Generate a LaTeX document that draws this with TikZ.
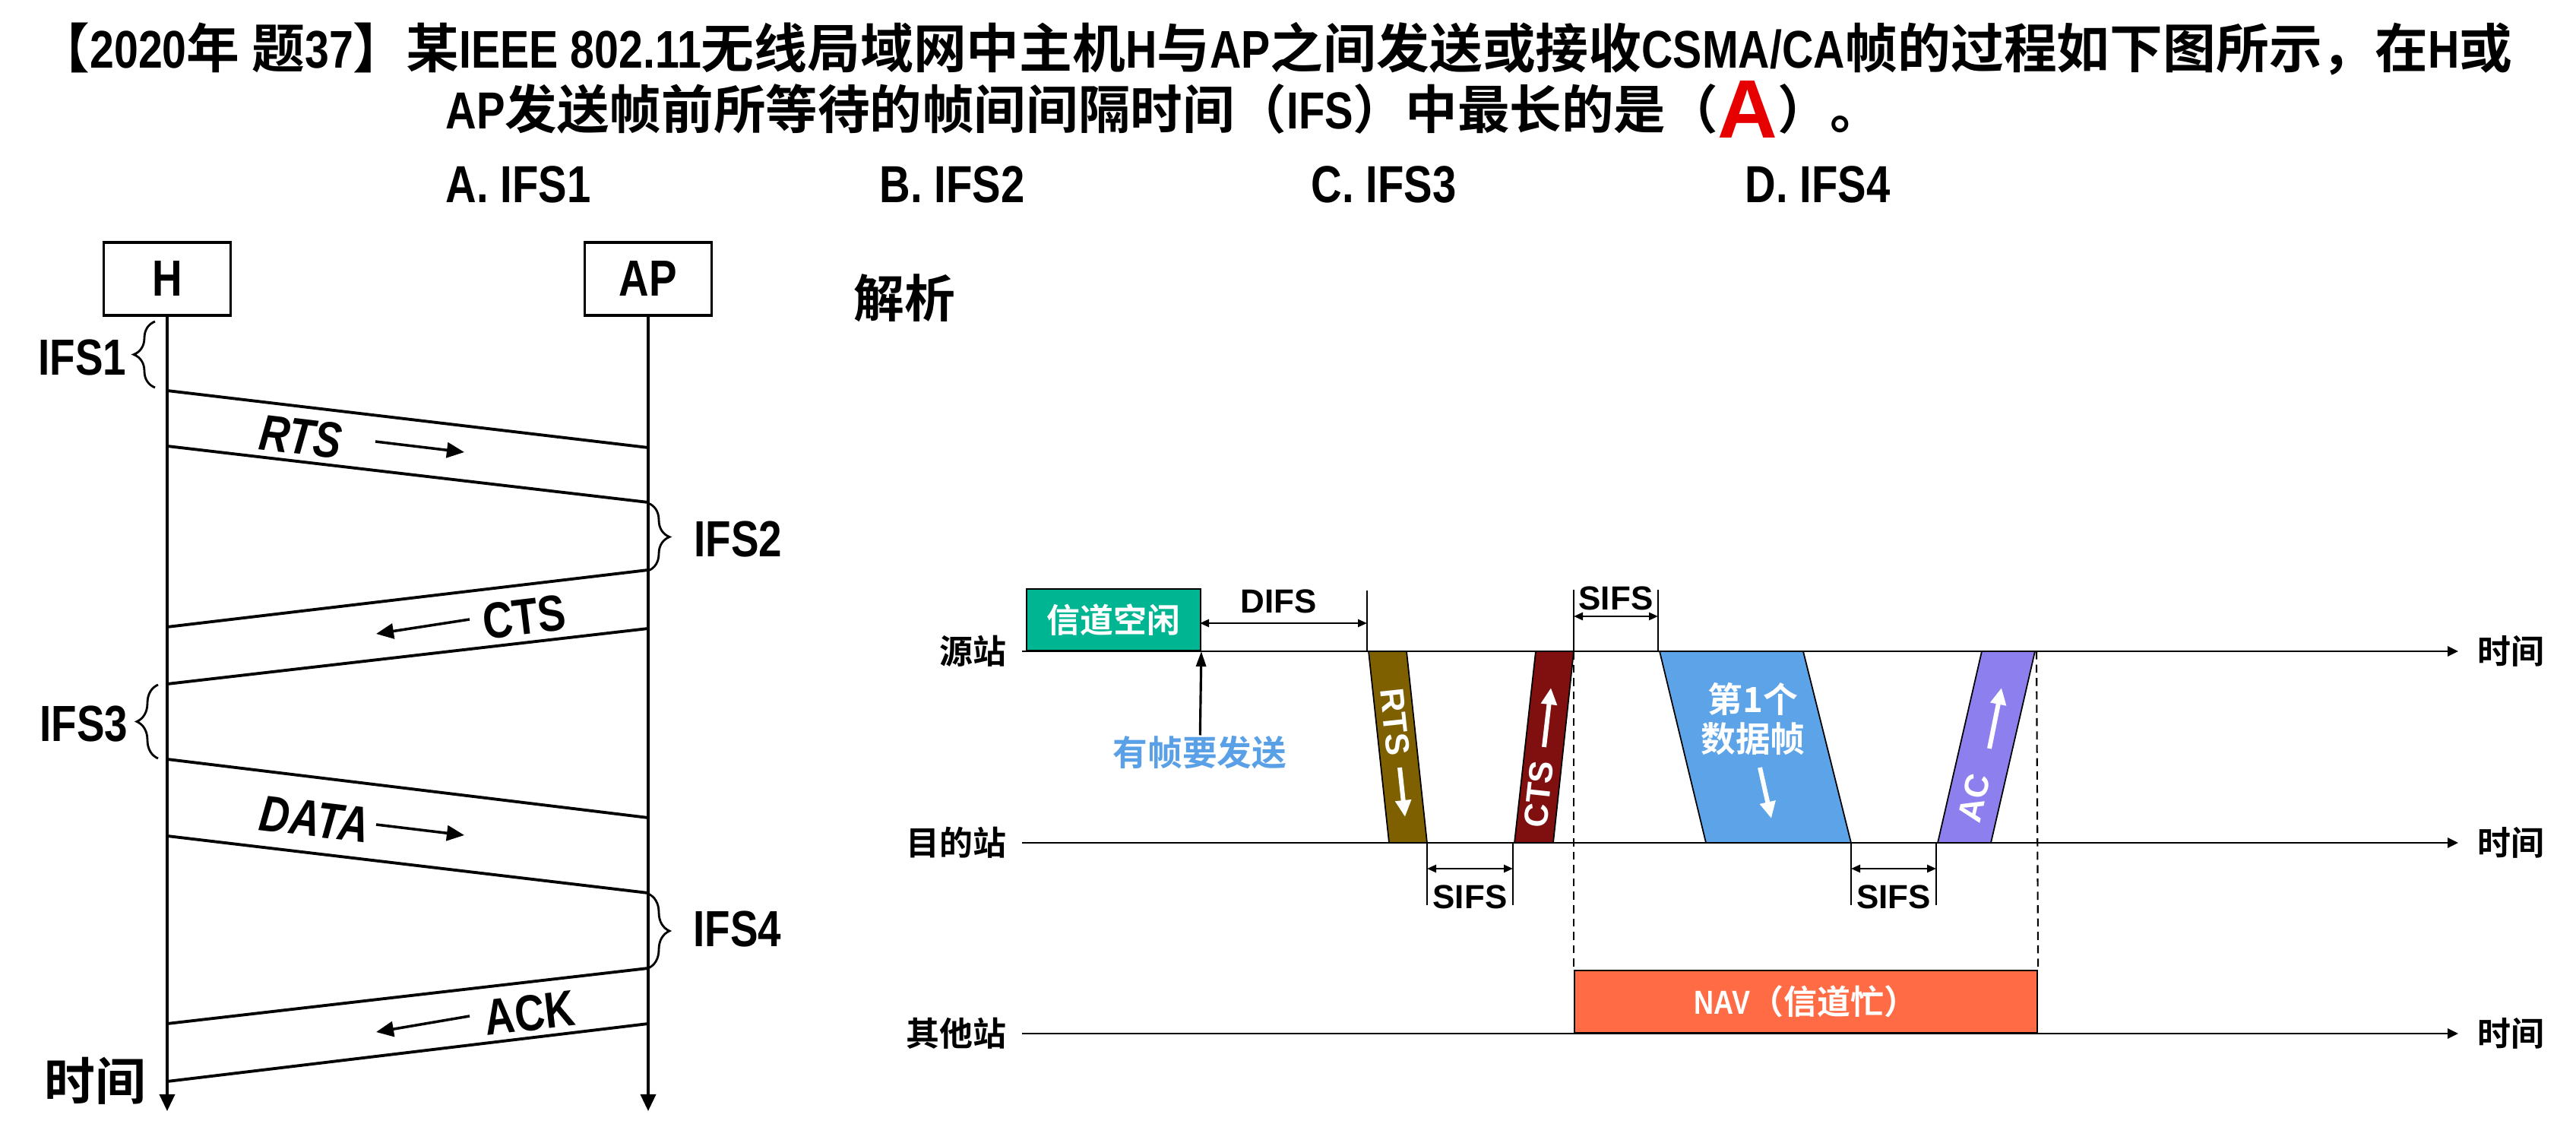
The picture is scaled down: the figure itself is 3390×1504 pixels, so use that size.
\documentclass[tikz,border=0pt]{standalone}
\usepackage{fontspec}
\setmainfont{Liberation Sans}
\newfontfamily\narrowfont{Liberation Sans}[FakeStretch=0.82]
\newfontfamily\cjkfont{Noto Sans CJK SC}[BoldFont={Noto Sans CJK SC Bold}]
\newcommand{\zh}[1]{{\cjkfont\bfseries #1}}
\usetikzlibrary{arrows.meta,decorations.pathreplacing,positioning}

\definecolor{idlegreen}{RGB}{0,182,146}
\definecolor{rtsbrown}{RGB}{127,96,0}
\definecolor{ctsred}{RGB}{128,16,16}
\definecolor{datablue}{RGB}{92,163,232}
\definecolor{ackviolet}{RGB}{141,128,238}
\definecolor{navorange}{RGB}{255,107,69}
\definecolor{hintblue}{RGB}{90,160,230}
\definecolor{answerred}{RGB}{230,0,0}

\begin{document}
\begin{tikzpicture}[x=0.01cm, y=-0.01cm,
  every node/.style={inner sep=0pt},
  qline/.style={anchor=base west, font=\fontsize{19.5}{24}\selectfont\narrowfont\bfseries},
  hostbox/.style={draw, line width=1.1pt, minimum width=1.67cm, minimum height=0.96cm,
    font=\fontsize{19}{23}\selectfont\narrowfont\bfseries},
  lbl/.style={font=\fontsize{19}{23}\selectfont\narrowfont\bfseries},
  life/.style={line width=1pt, -{Triangle[length=0.22cm,width=0.2cm]}},
  msgline/.style={line width=1.1pt},
  dirarrow/.style={line width=1pt, -{Triangle[length=0.23cm,width=0.2cm]}},
  ifsbrace/.style={decorate, decoration={brace, amplitude=0.28cm}, line width=0.8pt},
  station/.style={anchor=east, font=\fontsize{12.5}{15}\selectfont\bfseries},
  timeaxis/.style={line width=0.8pt, -{Triangle[length=0.14cm,width=0.13cm]}},
  framebox/.style={draw=black, line width=0.5pt},
  wtxt/.style={text=white, font=\fontsize{12.5}{15}\selectfont\bfseries},
  warrow/.style={white, line width=1.7pt, -{Triangle[length=0.22cm,width=0.2cm]}},
  vtick/.style={line width=0.6pt},
  ifsspan/.style={line width=0.7pt, {Triangle[length=0.12cm,width=0.1cm]}-{Triangle[length=0.12cm,width=0.1cm]}},
  gaplbl/.style={font=\fontsize{12.5}{15}\selectfont\bfseries}]
\useasboundingbox (0,0) rectangle (3390,1504);

% question
\node[qline, font=\fontsize{19.85}{24}\selectfont\narrowfont\bfseries] (q1) at (48,90) {\zh{【}2020\zh{年 题}37\zh{】某}IEEE 802.11\zh{无线局域网中主机}H\zh{与}AP\zh{之间发送或接收}CSMA/CA\zh{帧的过程如下图所示，在}H\zh{或}};
\node[qline] (q2) at (586,170) {AP\zh{发送帧前所等待的帧间间隔时间（}IFS\zh{）中最长的是（}{\rmfamily\color{answerred}\fontsize{31}{31}\selectfont\raisebox{-0.12cm}{A}}\zh{）。}};
\node[qline] (optA) at (586,267) {A. IFS1};
\node[qline] (optB) at (1157,267) {B. IFS2};
\node[qline] (optC) at (1725,267) {C. IFS3};
\node[qline] (optD) at (2296,267) {D. IFS4};

% H and AP
\node[hostbox] (H) at (220,367) {H};
\node[hostbox] (AP) at (853,367) {AP};
\coordinate (Hend) at (220,1462);
\coordinate (APend) at (853,1462);
\draw[life] (H) -- (Hend);
\draw[life] (AP) -- (APend);

\foreach \m/\ha/\aa/\hb/\ab in {rts/514/589/587/661, cts/825/750/900/827,
    data/999/1076/1100/1175, ack/1347/1274/1423/1347} {
  \coordinate (\m-h1) at (220,\ha);
  \coordinate (\m-a1) at (853,\aa);
  \coordinate (\m-h2) at (220,\hb);
  \coordinate (\m-a2) at (853,\ab);
  \draw[msgline] (\m-h1) -- (\m-a1);
  \draw[msgline] (\m-h2) -- (\m-a2);
}

\node[lbl, rotate=-6.8] (rtsl) at (396,575) {\itshape RTS};
\coordinate (rtsa) at (494,581);
\coordinate (rtsb) at (611,595);
\draw[dirarrow] (rtsa) -- (rtsb);
\node[lbl, rotate=6.8] (ctsl) at (690,812) {CTS};
\coordinate (ctsa) at (618,815);
\coordinate (ctsb) at (495,834);
\draw[dirarrow] (ctsa) -- (ctsb);
\node[lbl, rotate=-6.8] (datal) at (414,1078) {\itshape DATA};
\coordinate (dataa) at (495,1085);
\coordinate (datab) at (611,1099);
\draw[dirarrow] (dataa) -- (datab);
\node[lbl, rotate=6.8] (ackl) at (697,1333) {ACK};
\coordinate (acka) at (618,1337);
\coordinate (ackb) at (495,1358);
\draw[dirarrow] (acka) -- (ackb);

% IFS braces
\coordinate (ifs1a) at (204,510);
\coordinate (ifs1b) at (204,423);
\draw[ifsbrace] (ifs1a) -- (ifs1b);
\node[lbl, anchor=east] (ifs1) at (167,471) {IFS1};
\coordinate (ifs2a) at (853,662);
\coordinate (ifs2b) at (853,751);
\draw[ifsbrace] (ifs2a) -- (ifs2b);
\node[lbl, anchor=west] (ifs2) at (913,710) {IFS2};
\coordinate (ifs3a) at (208,998);
\coordinate (ifs3b) at (208,901);
\draw[ifsbrace] (ifs3a) -- (ifs3b);
\node[lbl, anchor=east] (ifs3) at (169,953) {IFS3};
\coordinate (ifs4a) at (853,1176);
\coordinate (ifs4b) at (853,1274);
\draw[ifsbrace] (ifs4a) -- (ifs4b);
\node[lbl, anchor=west] (ifs4) at (912,1222) {IFS4};

\node[lbl] (tleft) at (125,1422) {\zh{时间}};

% analysis
\node[font=\fontsize{19}{23}\selectfont] (jx) at (1190,392) {\zh{解析}};

\node[station] (src) at (1325,857) {\zh{源站}};
\node[station] (dst) at (1325,1109) {\zh{目的站}};
\node[station] (oth) at (1325,1360) {\zh{其他站}};
\foreach \s/\y in {src/857, dst/1109, oth/1360} {
  \coordinate (\s-0) at (1345,\y);
  \coordinate (\s-1) at (3235,\y);
  \draw[timeaxis] (\s-0) -- (\s-1);
  \node[gaplbl, anchor=west] (\s-t) at (3260,\y) {\zh{时间}};
}

\node[framebox, fill=idlegreen, minimum width=2.29cm, minimum height=0.81cm,
  anchor=south west, wtxt] (idle) at (1350,857) {\zh{信道空闲}};
\node[font=\fontsize{13}{15}\selectfont, text=hintblue] (want) at (1579,990) {\zh{有帧要发送}};
\draw[line width=0.9pt, -{Triangle[length=0.2cm,width=0.13cm]}] (want) -- (idle.south east);

\coordinate (difs-top) at (1799,777);
\coordinate (difs-bot) at (1799,857);
\draw[vtick] (difs-top) -- (difs-bot);
\coordinate (difs-l) at (1579,820);
\coordinate (difs-r) at (1799,820);
\draw[ifsspan] (difs-l) -- (difs-r);
\node[gaplbl] (difs) at (1683,791) {DIFS};

% frames
\draw[framebox, fill=rtsbrown] (1801,857) -- (1851,857) -- (1878,1109) -- (1828,1109) -- cycle;
\node[wtxt, rotate=-83.9] (rtsv) at (1836,950) {RTS};
\draw[warrow] (1842,1010) -- (1849,1075);

\draw[framebox, fill=ctsred] (1993,1109) -- (2044,1109) -- (2071,857) -- (2021,857) -- cycle;
\node[wtxt, rotate=83.8] (ctsv) at (2025,1045) {CTS};
\draw[warrow] (2032,983) -- (2041,905);

\draw[framebox, fill=datablue] (2184,857) -- (2373,857) -- (2436,1109) -- (2245,1109) -- cycle;
\node[wtxt, font=\fontsize{13}{15}\selectfont, align=center] (datav) at (2307,946) {\zh{第1个}\\\zh{数据帧}};
\draw[warrow] (2316,1010) -- (2331,1077);

\draw[framebox, fill=ackviolet] (2550,1109) -- (2620,1109) -- (2678,857) -- (2608,857) -- cycle;
\node[wtxt, rotate=77] (acv) at (2598,1050) {AC};
\draw[warrow] (2618,985) -- (2634,905);

% SIFS gaps
\foreach \xa/\xb/\ya/\yb/\ym/\yl/\g in {1878/1991/1109/1191/1143/1180/s1,
    2071/2182/776/857/811/787/s2, 2436/2548/1109/1191/1143/1180/s3} {
  \draw[vtick] (\xa,\ya) -- (\xa,\yb);
  \draw[vtick] (\xb,\ya) -- (\xb,\yb);
  \coordinate (\g-l) at (\xa,\ym);
  \coordinate (\g-r) at (\xb,\ym);
  \draw[ifsspan] (\g-l) -- (\g-r);
  \node[gaplbl] (\g) at ({(\xa+\xb)/2},\yl) {SIFS};
}

% NAV
\node[framebox, fill=navorange, minimum width=6.09cm, minimum height=0.82cm, anchor=south west,
  text=white, font=\fontsize{12.5}{15}\selectfont\narrowfont\bfseries] (nav) at (2071,1360) {NAV\zh{（信道忙）}};
\coordinate (nav-l) at (2071,857);
\coordinate (nav-r) at (2680,857);
\draw[vtick, dashed, dash pattern=on 3pt off 2pt] (nav-l) -- (nav.north west);
\draw[vtick, dashed, dash pattern=on 3pt off 2pt] (nav-r) -- (nav.north east);
\end{tikzpicture}
\end{document}
